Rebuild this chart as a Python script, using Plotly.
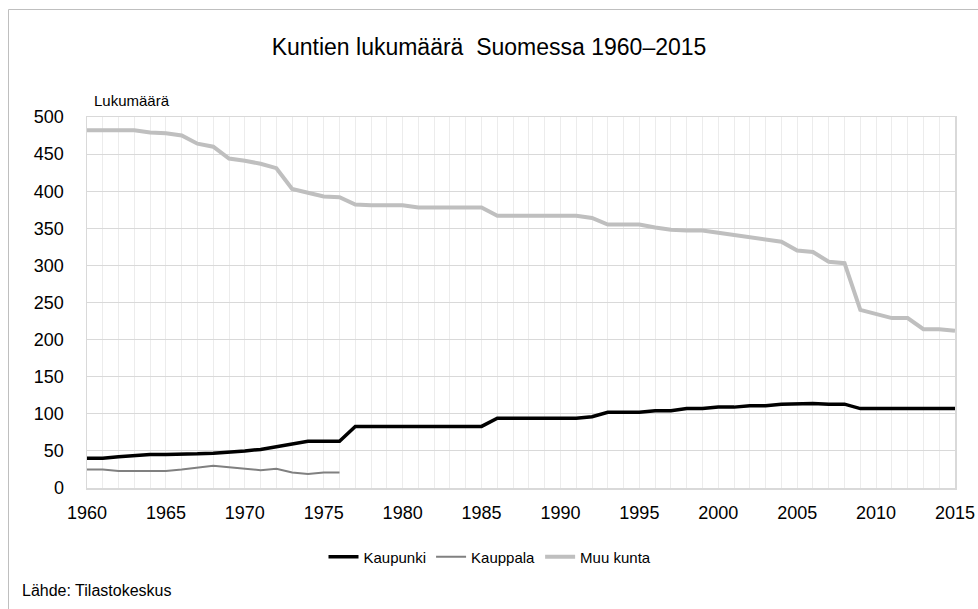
import plotly.graph_objects as go

years = list(range(1960, 2016))

kaupunki = [40, 40, 42, 44, 45, 45, 45, 46, 47, 48, 50, 52, 56, 60, 63, 63, 63, 83,
            83, 83, 83, 83, 83, 83, 83, 83,
            94, 94, 94, 94, 94, 94, 96, 102, 102, 102, 104, 104, 107, 107, 109, 109,
            111, 111, 113, 114, 114, 113, 113, 107, 107, 107, 107, 107, 107, 107]

kauppala = [25, 25, 23, 23, 23, 23, 25, 27, 30, 28, 26, 24, 26, 21, 19, 21, 21] + [None] * 39

muu_kunta = [482, 482, 482, 482, 479, 478, 475, 464, 460, 444, 441, 437, 431, 403, 398, 393,
             392, 382, 381, 381, 381, 378, 378, 378, 378, 378, 367, 367, 367, 367, 367, 367,
             364, 355, 355, 355, 351, 348, 347, 347, 344, 341, 339, 336, 332, 320, 318, 305,
             303, 240, 235, 229, 229, 214, 214, 212]

x_tick_vals = [1960, 1965, 1970, 1975, 1980, 1985, 1990, 1995, 2000, 2005, 2010, 2015]
y_tick_vals = [0, 50, 100, 150, 200, 250, 300, 350, 400, 450, 500]

FONT = "Liberation Sans, Arial, sans-serif"

fig = go.Figure()
fig.add_trace(go.Scatter(x=years, y=kaupunki, mode="lines", name="Kaupunki",
                         line=dict(color="#000000", width=3.5)))
fig.add_trace(go.Scatter(x=years, y=kauppala, mode="lines", name="Kauppala",
                         line=dict(color="#808080", width=2), connectgaps=False))
fig.add_trace(go.Scatter(x=years, y=muu_kunta, mode="lines", name="Muu kunta",
                         line=dict(color="#bfbfbf", width=4)))

W, H = 978, 609
L, R, T, B = 87, 955, 117, 488
pw, ph = R - L, B - T

def px(xp):
    return (xp - L) / pw

def py(yp):
    return (B - yp) / ph

fig.update_layout(
    template="none",
    width=W, height=H, autosize=False,
    margin=dict(l=L, r=W - R, t=T, b=H - B, pad=0, autoexpand=False),
    paper_bgcolor="white", plot_bgcolor="white",
    font=dict(family=FONT, color="#000000", size=18),
    hovermode=False,
    title=dict(text="Kuntien lukumäärä  Suomessa 1960–2015", x=0.5, xanchor="center",
               y=1 - 47 / H, yanchor="middle", font=dict(size=23, family=FONT, color="#000")),
    showlegend=True,
    legend=dict(orientation="h", x=px(490), xanchor="center", y=py(557), yanchor="middle",
                font=dict(size=15, family=FONT), itemwidth=30, tracegroupgap=0,
                bgcolor="rgba(0,0,0,0)", borderwidth=0),
    xaxis=dict(range=[1960, 2015], tickmode="array", tickvals=x_tick_vals,
               ticktext=[str(v) for v in x_tick_vals], automargin=False,
               showgrid=True, gridcolor="#ececec", gridwidth=1,
               minor=dict(dtick=1, showgrid=True, gridcolor="#ececec", gridwidth=1, ticks=""),
               showline=True, linecolor="#d9d9d9", linewidth=1.5, mirror=True,
               ticks="", zeroline=False, tickfont=dict(size=18), ticklabelstandoff=8),
    yaxis=dict(range=[0, 500], tickmode="array", tickvals=y_tick_vals, automargin=False,
               showgrid=True, gridcolor="#d9d9d9", gridwidth=1,
               showline=True, linecolor="#d9d9d9", linewidth=1.5, mirror=True,
               ticks="", zeroline=False, tickfont=dict(size=18), ticklabelstandoff=18),
    shapes=[dict(type="rect", xref="paper", yref="paper",
                 x0=px(8.5), x1=px(1000), y0=py(640), y1=py(9.5),
                 line=dict(color="#bfbfbf", width=1), fillcolor="rgba(0,0,0,0)", layer="below")],
    annotations=[
        dict(text="Lukumäärä", xref="paper", yref="paper", x=px(92), y=py(100),
             xanchor="left", yanchor="middle", showarrow=False, font=dict(size=15)),
        dict(text="Lähde: Tilastokeskus", xref="paper", yref="paper", x=px(20), y=py(590),
             xanchor="left", yanchor="middle", showarrow=False, font=dict(size=16)),
    ],
)

fig.write_html("out.html", config={"displayModeBar": False, "staticPlot": True},
               post_script="document.body.style.margin='0';document.body.style.overflow='hidden';")
